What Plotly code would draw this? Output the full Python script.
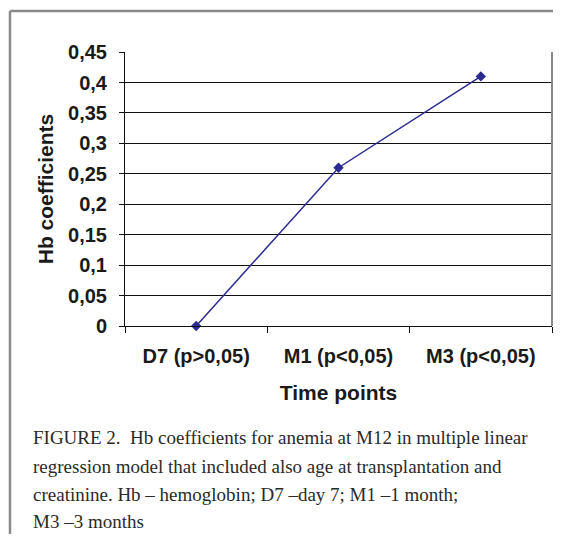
import plotly.graph_objects as go

categories = ["D7 (p>0,05)", "M1 (p<0,05)", "M3 (p<0,05)"]
hb_coefficients = [0.0, 0.26, 0.41]
y_tick_values = [0, 0.05, 0.1, 0.15, 0.2, 0.25, 0.3, 0.35, 0.4, 0.45]
y_tick_labels = ["0", "0,05", "0,1", "0,15", "0,2", "0,25", "0,3", "0,35", "0,4", "0,45"]
caption_lines = [
    "FIGURE 2.  Hb coefficients for anemia at M12 in multiple linear",
    "regression model that included also age at transplantation and",
    "creatinine. Hb \u2013 hemoglobin; D7 \u2013day 7; M1 \u20131 month;",
    "M3 \u20133 months",
]

OFF = 8  # page body margin
W, H = 561 - 2 * OFF, 542 - 2 * OFF
L, R, T, B = 125 - OFF, 552 - OFF, 52 - OFF, 326 - OFF  # plot area in figure pixels


def px(x):
    return (x - OFF - L) / (R - L)


def py(y):
    return (B - (y - OFF)) / (B - T)


fig = go.Figure()
fig.add_trace(go.Scatter(
    x=categories, y=hb_coefficients, mode="lines+markers",
    line=dict(color="#2b2b8f", width=1.5),
    marker=dict(symbol="diamond", size=8, color="#2b2b8f"),
    showlegend=False, cliponaxis=False,
))

sans = "Liberation Sans, Arial, sans-serif"
tick_font = dict(family=sans, size=20, color="#1a1a1a")

fig.update_layout(
    width=W, height=H,
    margin=dict(l=L, r=W - R, t=T, b=H - B, autoexpand=False),
    paper_bgcolor="white", plot_bgcolor="white",
    xaxis=dict(
        type="category", range=[-0.5, 2.5],
        showline=True, linecolor="#111111", linewidth=1,
        ticks="outside", tickson="boundaries", ticklen=6, tickcolor="#111111",
        showgrid=False, tickfont=tick_font, ticklabelstandoff=12,
        title=dict(text="<b>Time points</b>", font=dict(family=sans, size=21, color="#1a1a1a"), standoff=19),
        automargin=False, fixedrange=True,
    ),
    yaxis=dict(
        range=[0, 0.4501],
        tickvals=y_tick_values, ticktext=["<b>%s</b>" % t for t in y_tick_labels],
        showline=True, linecolor="#111111", linewidth=1,
        ticks="outside", ticklen=5, tickcolor="#111111",
        showgrid=True, gridcolor="#111111", gridwidth=1,
        zeroline=False, tickfont=tick_font, ticklabelstandoff=8,
        title=dict(text="<b>Hb coefficients</b>", font=dict(family=sans, size=21, color="#1a1a1a"), standoff=8),
        automargin=False, fixedrange=True,
    ),
)
fig.update_xaxes(tickprefix="<b>", ticksuffix="</b>")

# outer frame (top and left gray lines)
fig.add_shape(type="line", xref="paper", yref="paper", x0=px(10), x1=px(561), y0=py(11), y1=py(11),
              line=dict(color="#8a8a8a", width=2.5))
fig.add_shape(type="line", xref="paper", yref="paper", x0=px(10), x1=px(10), y0=py(11), y1=py(542),
              line=dict(color="#8a8a8a", width=2.5))
# right plot border (gray)
fig.add_shape(type="line", xref="paper", yref="paper", x0=1, x1=1, y0=0, y1=1,
              line=dict(color="#8a8a8a", width=2))

caption_y = [437, 466, 494, 521]
for line, yy in zip(caption_lines, caption_y):
    fig.add_annotation(text=line, xref="paper", yref="paper", x=px(31), y=py(yy),
                       xanchor="left", yanchor="middle", showarrow=False,
                       font=dict(family="Liberation Serif, serif", size=19, color="#2a2a2a"))

fig.write_html("out.html")
